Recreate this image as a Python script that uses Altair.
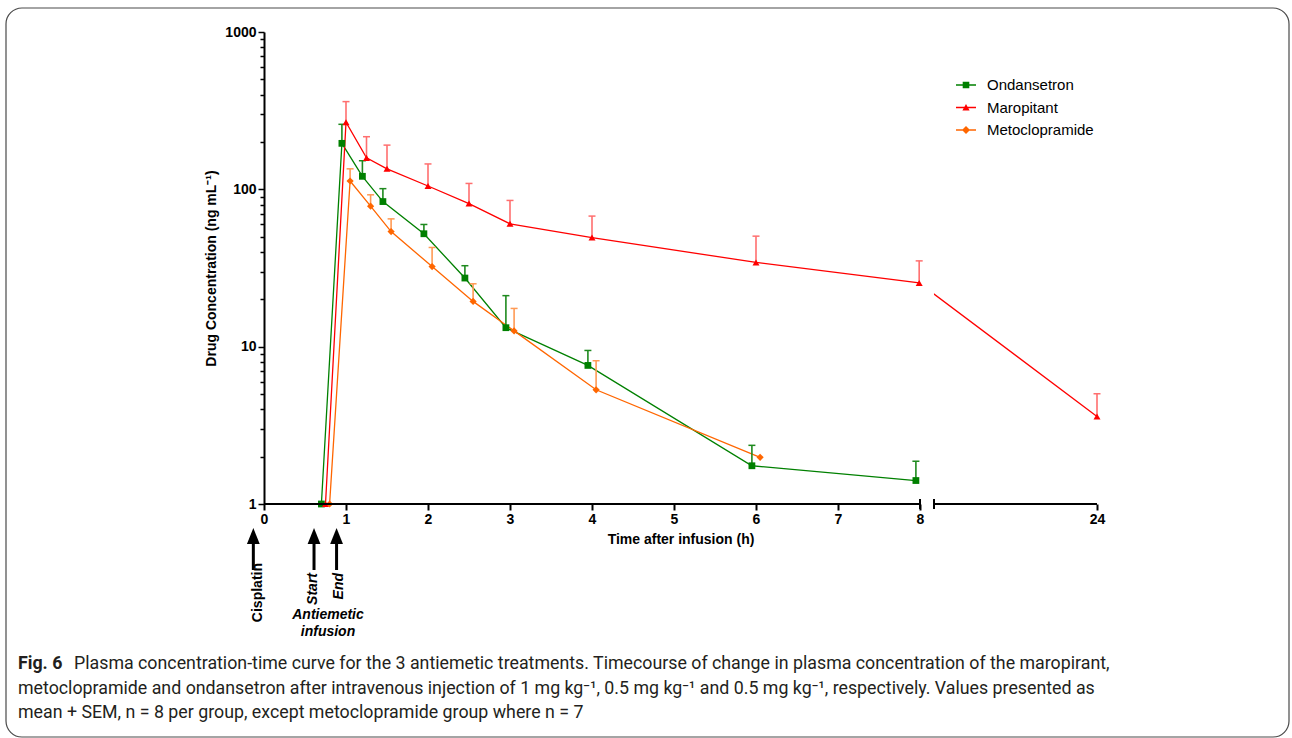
import altair as alt
import pandas as pd

# ---------------- data ----------------
series_names = ["Ondansetron", "Maropitant", "Metoclopramide"]

ond_time = [0.70, 0.95, 1.20, 1.45, 1.95, 2.45, 2.95, 3.95, 5.95, 7.95]
ond_conc = [1.0, 196, 121, 83.6, 52.2, 27.3, 13.2, 7.6, 1.75, 1.41]
ond_upper = [None, 259, 152, 101, 59.8, 32.7, 21.1, 9.46, 2.36, 1.87]

mar_time = [0.75, 1.00, 1.25, 1.50, 2.00, 2.50, 3.00, 4.00, 6.00, 7.99, 24.0]
mar_conc = [1.0, 267, 158.5, 135, 105, 81.2, 60.4, 49.4, 34.3, 25.4, 3.6]
mar_upper = [None, 361, 216, 191, 145, 109, 85, 67.6, 50.4, 35.1, 5.02]

met_time = [0.80, 1.05, 1.30, 1.55, 2.05, 2.55, 3.05, 4.05, 6.05]
met_conc = [1.0, 113, 78.2, 53.9, 32.3, 19.4, 12.6, 5.32, 1.98]
met_upper = [None, 135, 92.3, 64.9, 42.7, 25.1, 17.5, 8.14, None]

x_tick_values = [0, 1, 2, 3, 4, 5, 6, 7, 8, 24]
x_axis_pieces_start = [0, 22]
x_axis_pieces_end = [8, 24]
y_major = [1, 10, 100, 1000]
y_ticks = [m * 10 ** e for e in range(3) for m in range(1, 10)] + [1000]

arrow_labels = ["Cisplatin", "Start", "End"]
arrow_times = [-0.13, 0.61, 0.885]

caption_bold = "Fig. 6"
caption_lines = [
    "Plasma concentration-time curve for the 3 antiemetic treatments. Timecourse of change in plasma concentration of the maropirant,",
    "metoclopramide and ondansetron after intravenous injection of 1 mg kg\u207b\u00b9, 0.5 mg kg\u207b\u00b9 and 0.5 mg kg\u207b\u00b9, respectively. Values presented as",
    "mean + SEM, n = 8 per group, except metoclopramide group where n = 7",
]

# ---------------- tables ----------------
rows = []
for name, ts, cs, us in [
    ("Ondansetron", ond_time, ond_conc, ond_upper),
    ("Maropitant", mar_time, mar_conc, mar_upper),
    ("Metoclopramide", met_time, met_conc, met_upper),
]:
    for t, c, u in zip(ts, cs, us):
        rows.append({"series": name, "time": t, "conc": c, "upper": u})
df = pd.DataFrame(rows)
err_df = df.dropna(subset=["upper"])

axis_df = pd.DataFrame({"start": x_axis_pieces_start, "end": x_axis_pieces_end})
gap_df = pd.DataFrame({"start": [8.02], "end": [21.97]})
cap_df = pd.DataFrame({"time": [8, 22]})
arrow_df = pd.DataFrame({"label": arrow_labels, "time": arrow_times})
one = pd.DataFrame({"k": [0]})

# ---------------- styles ----------------
line_colors = ["#008000", "#FF0000", "#FF6600"]
err_colors = ["#1F8A1F", "#FF6F6F", "#FF9A55"]
FONT = "Liberation Sans"

W, H = 833, 472
xscale = alt.Scale(type="linear", domain=[0, 8, 22, 24], range=[0, 656, 670, W], nice=False, zero=False)
yscale = alt.Scale(type="log", domain=[1, 1000], nice=False)

major_test = "indexof([1, 10, 100, 1000], datum.value) >= 0"

X = alt.X(
    "time:Q",
    scale=xscale,
    axis=alt.Axis(
        title="Time after infusion (h)",
        values=x_tick_values,
        domain=False,
        tickSize=6,
        tickWidth=2,
        tickColor="black",
        labelFont=FONT,
        labelFontSize=14,
        labelFontWeight="bold",
        labelColor="black",
        labelPadding=2,
        labelFlush=False,
        labelOverlap=False,
        titleFont=FONT,
        titleFontSize=14,
        titleFontWeight="bold",
        titleColor="black",
        titlePadding=6,
        grid=False,
    ),
)
Y = alt.Y(
    "conc:Q",
    scale=yscale,
    axis=alt.Axis(
        title="Drug Concentration (ng mL\u207b\u00b9)",
        values=y_ticks,
        labelExpr=major_test + " ? format(datum.value, 'd') : ''",
        tickSize={"condition": {"test": major_test, "value": 6}, "value": 4},
        tickWidth=1.5,
        tickColor="black",
        domainColor="black",
        domainWidth=2,
        labelFont=FONT,
        labelFontSize=14,
        labelFontWeight="bold",
        labelColor="black",
        labelPadding=2,
        labelFlush=False,
        labelOverlap=False,
        titleFont=FONT,
        titleFontSize=14,
        titleFontWeight="bold",
        titleColor="black",
        titlePadding=6,
        grid=False,
    ),
)

color_scale = alt.Scale(domain=series_names, range=line_colors)

border = alt.Chart(one).mark_rect(
    fill="white", fillOpacity=0, stroke="#4a4a4a", strokeWidth=1.2, cornerRadius=16
).encode(x=alt.value(-258), x2=alt.value(1025), y=alt.value(-24), y2=alt.value(705))

lines = alt.Chart(df).mark_line(strokeWidth=1.3).encode(
    x=X, y=Y,
    color=alt.Color("series:N", scale=color_scale, legend=None),
    detail="series:N",
)

gap = alt.Chart(gap_df).mark_rect(fill="white").encode(
    x=alt.X("start:Q", scale=xscale), x2="end:Q", y=alt.value(0), y2=alt.value(471)
)

err_stroke = alt.Stroke("series:N", scale=alt.Scale(domain=series_names, range=err_colors), legend=None)
stems = alt.Chart(err_df).mark_rule(strokeWidth=1.6).encode(
    x=X, y=Y, y2="upper:Q", stroke=err_stroke
)
caps = alt.Chart(err_df).mark_rule(strokeWidth=1.5, xOffset=-3.5, x2Offset=3.5).encode(
    x=X, x2="time:Q", y=alt.Y("upper:Q", scale=yscale), stroke=err_stroke
)

points = alt.Chart(df).mark_point(filled=True, opacity=1).encode(
    x=X, y=Y,
    color=alt.Color("series:N", scale=color_scale, legend=None),
    shape=alt.Shape("series:N", scale=alt.Scale(domain=series_names, range=["square", "triangle-up", "diamond"]), legend=None),
    size=alt.Size("series:N", scale=alt.Scale(domain=series_names, range=[46, 52, 58]), legend=None),
)

axis_lines = alt.Chart(axis_df).mark_rule(color="black", strokeWidth=2).encode(
    x=alt.X("start:Q", scale=xscale), x2="end:Q", y=alt.value(H)
)
break_caps = alt.Chart(cap_df).mark_rule(color="black", strokeWidth=2).encode(
    x=alt.X("time:Q", scale=xscale), y=alt.value(H - 5), y2=alt.value(H + 5)
)

# legend (only the legend is shown from this layer)
bar = "M-1,-0.065L1,-0.065L1,0.065L-1,0.065Z "
legend_paths = [
    bar + "M-0.33,-0.33L0.33,-0.33L0.33,0.33L-0.33,0.33Z",
    bar + "M-0.36,0.3L0,-0.36L0.36,0.3Z",
    bar + "M0,-0.4L0.4,0L0,0.4L-0.4,0Z",
]
leg = alt.Legend(
    title=None, orient="none", legendX=692, legendY=43, padding=0,
    symbolSize=400, symbolStrokeWidth=0, labelFont=FONT, labelFontSize=15,
    labelColor="black", labelOffset=11, rowPadding=4.5,
)
legend_layer = alt.Chart(df).transform_filter("false").mark_point(filled=True, opacity=1).encode(
    x=X, y=Y,
    color=alt.Color("series:N", scale=color_scale, legend=leg),
    shape=alt.Shape("series:N", scale=alt.Scale(domain=series_names, range=legend_paths), legend=leg),
)

# arrows below the x axis
arrow_x = alt.X("time:Q", scale=xscale)
shafts = alt.Chart(arrow_df).mark_rule(color="black", strokeWidth=3).encode(
    x=arrow_x, y=alt.value(508), y2=alt.value(538)
)
heads = alt.Chart(arrow_df).mark_point(
    shape="M0,-1L0.8,1L-0.8,1Z", filled=True, opacity=1, color="black", size=256
).encode(x=arrow_x, y=alt.value(504))

arrow_texts = []
# (font style, horizontal shift, top of the rotated text)
text_styles = [("normal", 5, 531), ("italic", -1, 541), ("italic", 2, 541)]
for lab, (fstyle, shift, ytop) in zip(arrow_labels, text_styles):
    arrow_texts.append(
        alt.Chart(arrow_df).transform_filter(alt.datum.label == lab).mark_text(
            angle=270, align="right", baseline="middle", font=FONT, fontSize=14,
            fontWeight="bold", fontStyle=fstyle, color="black", dy=shift
        ).encode(x=arrow_x, y=alt.value(ytop), text="label:N")
    )

infusion_text = alt.Chart(one).mark_text(
    font=FONT, fontSize=14, fontWeight="bold", fontStyle="italic", color="black",
    align="center", baseline="middle", lineHeight=17
).encode(x=alt.value(64), y=alt.value(583), text=alt.value(["Antiemetic", "infusion"]))

# caption
CAP_FONT = "Roboto"
CAP_SIZE = 17.8
cap_color = "#231F20"
cap_bold = alt.Chart(one).mark_text(
    font=CAP_FONT, fontSize=CAP_SIZE, fontWeight="bold", color=cap_color, align="left", baseline="middle"
).encode(x=alt.value(-246), y=alt.value(632), text=alt.value(caption_bold))
cap_texts = []
for i, (txt, xv) in enumerate(zip(caption_lines, [-190, -246, -246])):
    cap_texts.append(
        alt.Chart(one).mark_text(
            font=CAP_FONT, fontSize=CAP_SIZE, color=cap_color, align="left", baseline="middle"
        ).encode(x=alt.value(xv), y=alt.value(632 + 24.5 * i), text=alt.value(txt))
    )

chart = alt.layer(
    border, lines, gap, stems, caps, points, axis_lines, break_caps,
    shafts, heads, *arrow_texts, infusion_text, cap_bold, *cap_texts, legend_layer,
).resolve_scale(
    color="independent", shape="independent", size="independent", stroke="independent"
).properties(
    width=W, height=H,
    padding={"left": 264, "top": 32, "right": 1292 - 264 - W, "bottom": 738 - 32 - H},
    autosize=alt.AutoSizeParams(type="none"),
    background="white",
).configure_view(stroke=None)

chart.save("out.html", embed_options={"renderer": "svg", "actions": False})
